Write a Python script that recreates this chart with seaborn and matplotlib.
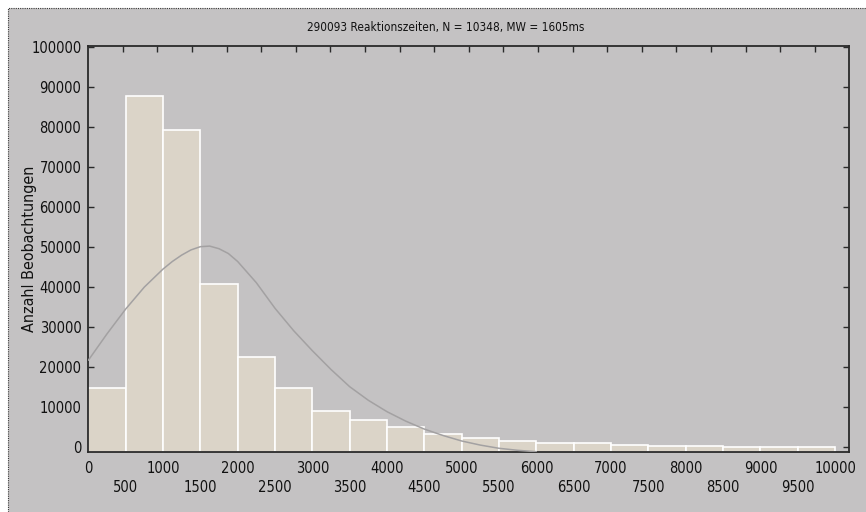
import numpy as np
import pandas as pd
import matplotlib
matplotlib.use("Agg")
import matplotlib.pyplot as plt
from matplotlib.patches import Rectangle
import seaborn as sns

# ---- data ----
bin_edges = [0, 500, 1000, 1500, 2000, 2500, 3000, 3500, 4000, 4500, 5000,
             5500, 6000, 6500, 7000, 7500, 8000, 8500, 9000, 9500, 10000]
counts = [14750, 87750, 79100, 40750, 22350, 14750, 9000, 6650, 5050, 3175,
          2100, 1450, 1050, 850, 425, 150, 80, 40, 15, 10]
curve_x = [0, 250, 500, 750, 1000, 1125, 1250, 1375, 1500, 1625, 1750, 1875,
           2000, 2250, 2500, 2750, 3000, 3250, 3500, 3750, 4000, 4250, 4500,
           4750, 5000, 5250, 5500, 5750, 6000]
curve_y = [21600, 28200, 34400, 39900, 44400, 46300, 47900, 49200, 50000,
           50150, 49500, 48300, 46300, 41000, 34600, 29000, 24000, 19300,
           15000, 11600, 8750, 6400, 4400, 2800, 1425, 400, -400, -900, -1250]
title = "290093 Reaktionszeiten, N = 10348, MW = 1605ms"
ylabel = "Anzahl Beobachtungen"
major_xticks = list(range(0, 10001, 1000))
minor_xticks = list(range(500, 10000, 1000))
yticks = list(range(0, 100001, 10000))

BG = "#c4c2c3"
BAR = "#dbd4c8"
CURVE = "#a3a1a2"
SPINE = "#2a2a2a"

sns.set_theme(style="white")
plt.rcParams["font.family"] = ["DejaVu Sans"]
plt.rcParams["font.stretch"] = "condensed"

fig = plt.figure(figsize=(8.66, 5.12), dpi=100)
fig.patch.set_facecolor("white")
W, H = 866, 512
# gray panel with dotted border (behind everything)
fig.patches.append(Rectangle((8 / W, -0.01), 1.02, 1 - 8 / H + 0.01,
                             transform=fig.transFigure, facecolor=BG,
                             edgecolor="#333333", linestyle=(0, (1, 1)),
                             linewidth=0.8, zorder=-10))

ax = fig.add_axes([88.3 / W, 1 - 452.3 / H, (849.3 - 88.3) / W, (452.3 - 45.7) / H])
ax.set_zorder(1)
ax.set_facecolor(BG)

XMAX = 10190
YMIN, YMAX = -1400, 100250

df = pd.DataFrame({"center": [(a + b) / 2 for a, b in zip(bin_edges[:-1], bin_edges[1:])],
                   "count": counts})
sns.histplot(data=df, x="center", weights="count", bins=bin_edges, ax=ax,
             color=BAR, edgecolor="white", linewidth=1.2, alpha=1, zorder=2)
# bars start at the bottom of the axis, as in the reference
for p in ax.patches:
    top = p.get_y() + p.get_height()
    p.set_y(YMIN)
    p.set_height(top - YMIN)

sns.lineplot(x=curve_x, y=curve_y, ax=ax, color=CURVE, linewidth=1.1, zorder=3)

ax.set_xlim(0, XMAX)
ax.set_ylim(YMIN, YMAX)

for s in ax.spines.values():
    s.set_visible(True)
    s.set_color(SPINE)
    s.set_linewidth(1.3)

TICKSIZE = 10.5
ax.set_yticks(yticks)
ax.set_yticklabels([str(v) for v in yticks])
ax.tick_params(axis="y", which="major", direction="in", length=4, width=1,
               color=SPINE, left=True, right=True, labelsize=TICKSIZE, pad=5,
               labelcolor="#111111")

ax.set_xticks(major_xticks)
ax.set_xticklabels([str(v) for v in major_xticks])
ax.set_xticks(minor_xticks, minor=True)
ax.set_xticklabels([str(v) for v in minor_xticks], minor=True)
ax.tick_params(axis="x", which="major", length=0, labelsize=TICKSIZE, pad=6,
               labelcolor="#111111")
ax.tick_params(axis="x", which="minor", length=0, labelsize=TICKSIZE, pad=20,
               labelcolor="#111111", bottom=True)

ax.set_xlabel("")
ax.set_ylabel("")
fig.text(30 / W, 1 - 249 / H, ylabel, rotation=90, ha="center", va="center",
         fontsize=11.5, color="#111111")

# top ticks: evenly spaced inward marks
axt = ax.twiny()
axt.set_xlim(0, 22)
axt.set_xticks(list(range(1, 22)))
axt.set_xticklabels([])
axt.tick_params(axis="x", direction="in", length=4, width=1, color=SPINE,
                top=True, bottom=False)
for s in axt.spines.values():
    s.set_visible(False)

fig.text(446 / W, 1 - 27 / H, title, ha="center", va="center", fontsize=8.5,
         color="#111111")

fig.savefig("out.png", dpi=100, facecolor=fig.get_facecolor())
